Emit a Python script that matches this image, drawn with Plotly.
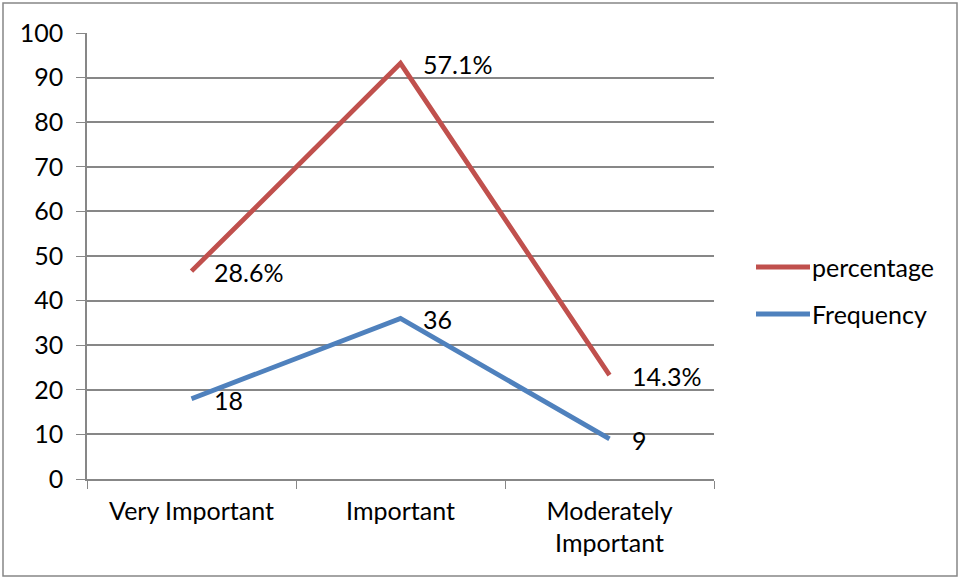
import plotly.graph_objects as go

categories = ["Very Important", "Important", "Moderately<br>Important"]
series_names = ["percentage", "Frequency"]
percentage_values = [46.6, 93.2, 23.3]
percentage_labels = ["28.6%", "57.1%", "14.3%"]
frequency_values = [18, 36, 9]
frequency_labels = ["18", "36", "9"]
y_ticks = [0, 10, 20, 30, 40, 50, 60, 70, 80, 90, 100]

RED = "#C0504D"
BLUE = "#4F81BD"
GRID = "#878787"
FONT = "Lato"
FS = 25

fig = go.Figure()
fig.add_trace(go.Scatter(x=categories, y=percentage_values, mode="lines",
                         line=dict(color=RED, width=4.8), name=series_names[0], showlegend=False))
fig.add_trace(go.Scatter(x=categories, y=frequency_values, mode="lines",
                         line=dict(color=BLUE, width=4.8), name=series_names[1], showlegend=False))

annotations = []
for vals, labs in [(percentage_values, percentage_labels), (frequency_values, frequency_labels)]:
    for c, v, t in zip(categories, vals, labs):
        annotations.append(dict(x=c, y=v, text=t, xref="x", yref="y", showarrow=False,
                                xanchor="left", yanchor="middle", xshift=20, yshift=-1,
                                font=dict(family=FONT, size=FS, color="black")))

# manual legend (paper coords: plot area px 87..714, 33..479)
def px_x(px):
    return (px - 87) / 627.0

def px_y(py):
    return (479 - py) / 446.0

shapes = []
for name, color, py in [(series_names[0], RED, 267), (series_names[1], BLUE, 314)]:
    shapes.append(dict(type="line", xref="paper", yref="paper",
                       x0=px_x(756), x1=px_x(810), y0=px_y(py), y1=px_y(py),
                       line=dict(color=color, width=5)))
    annotations.append(dict(x=px_x(810), y=px_y(py), xref="paper", yref="paper", text=name,
                            showarrow=False, xanchor="left", yanchor="middle",
                            font=dict(family=FONT, size=FS, color="black")))

shapes.append(dict(type="rect", xref="paper", yref="paper",
                   x0=px_x(3), x1=px_x(957), y0=px_y(576), y1=px_y(3),
                   line=dict(color="#878787", width=1.5), layer="below"))

fig.update_layout(
    width=961, height=578,
    margin=dict(l=87, r=247, t=33, b=99),
    paper_bgcolor="white", plot_bgcolor="white",
    font=dict(family=FONT, size=FS, color="black"),
    annotations=annotations, shapes=shapes,
    showlegend=False,
)
fig.update_xaxes(type="category", range=[-0.5, 2.5], showgrid=False,
                 showline=True, linecolor=GRID, linewidth=1.5,
                 ticks="outside", tickson="boundaries", ticklen=8, tickcolor=GRID,
                 tickfont=dict(family=FONT, size=FS, color="black"), ticklabelstandoff=9)
fig.update_yaxes(range=[0, 100], tickvals=y_ticks, showgrid=True, gridcolor=GRID, gridwidth=1.5,
                 showline=True, linecolor=GRID, linewidth=1.5, zeroline=False,
                 ticks="outside", ticklen=9, tickcolor=GRID,
                 tickfont=dict(family=FONT, size=FS, color="black"), ticklabelstandoff=8)

fig.write_html("out.html")
